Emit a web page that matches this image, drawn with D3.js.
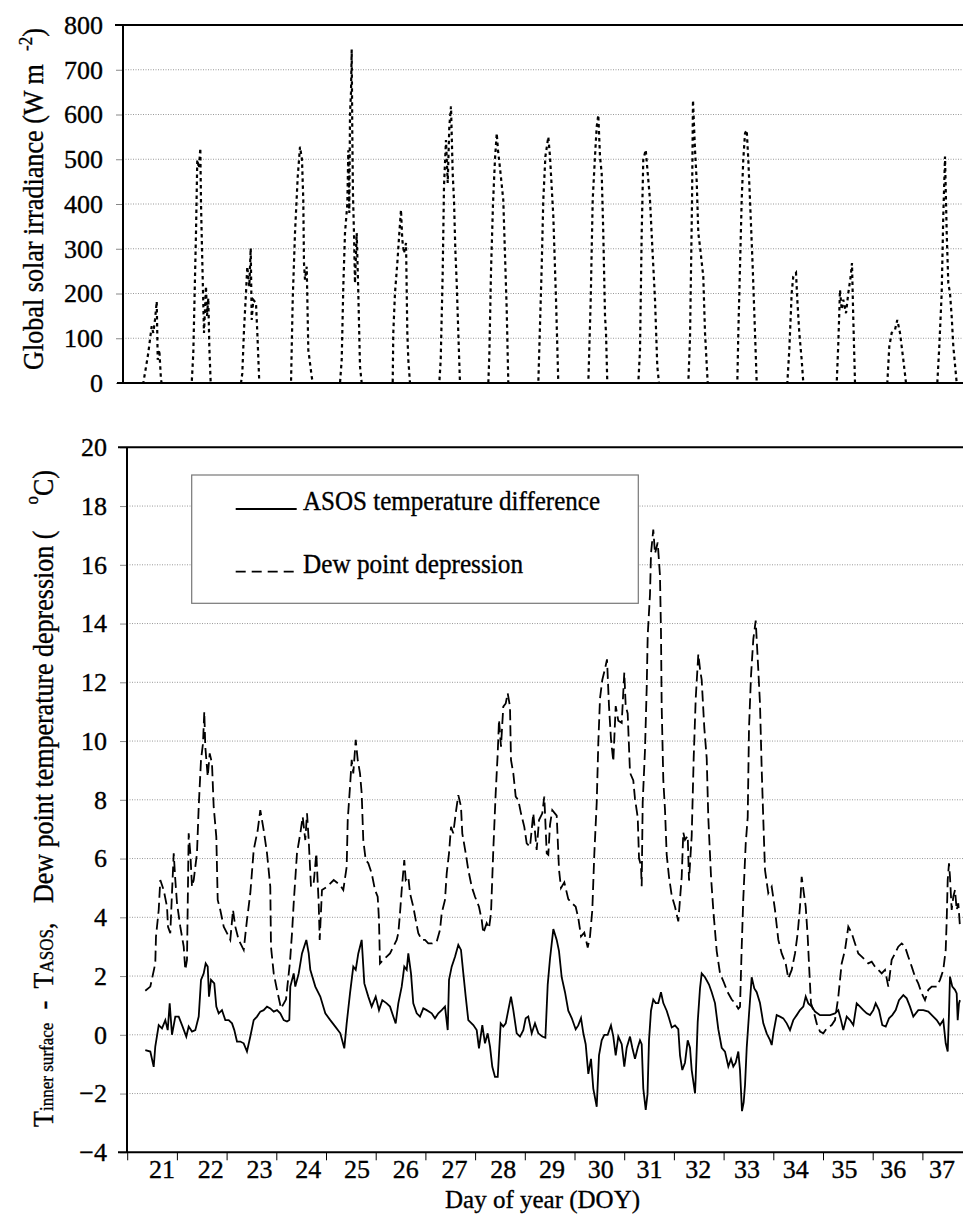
<!DOCTYPE html>
<html>
<head>
<meta charset="utf-8">
<script src="https://cdn.jsdelivr.net/npm/d3@7"></script>
<style>
body { margin: 0; background: #fff; }
</style>
</head>
<body>
<div id="chart"></div>
<script>
var days = [21, 22, 23, 24, 25, 26, 27, 28, 29, 30, 31, 32, 33, 34, 35, 36, 37];
var solarTicks = [0, 100, 200, 300, 400, 500, 600, 700, 800];
var tempTicks = [-4, -2, 0, 2, 4, 6, 8, 10, 12, 14, 16, 18, 20];
var legendNames = ['ASOS temperature difference', 'Dew point depression'];

// [DOY, W m-2]
var solar = [
  [21.000,0],[21.314,0],[21.382,45],[21.414,67],[21.483,127],[21.515,112],[21.549,141],[21.584,182],[21.604,52],[21.636,74],[21.670,7],[21.684,0],
  [22.288,0],[22.320,67],[22.374,335],[22.400,499],[22.435,480],[22.461,525],[22.475,400],[22.495,300],[22.535,112],[22.575,216],[22.596,150],[22.622,190],[22.642,82],[22.670,0],
  [23.280,0],[23.306,22],[23.340,119],[23.380,201],[23.406,260],[23.447,216],[23.475,301],[23.495,141],[23.527,186],[23.581,179],[23.608,112],[23.648,0],
  [24.286,0],[24.320,186],[24.366,335],[24.421,461],[24.467,528],[24.507,499],[24.533,409],[24.547,268],[24.567,231],[24.602,260],[24.634,74],[24.702,15],[24.722,0],
  [25.272,0],[25.306,52],[25.338,216],[25.372,335],[25.419,400],[25.439,520],[25.459,380],[25.473,600],[25.493,650],[25.507,745],[25.519,560],[25.533,420],[25.553,335],[25.573,223],[25.608,335],[25.640,201],[25.674,37],[25.708,0],
  [26.332,0],[26.344,112],[26.378,201],[26.425,268],[26.465,335],[26.499,387],[26.525,320],[26.559,290],[26.600,313],[26.626,112],[26.646,52],[26.680,0],
  [27.270,0],[27.298,52],[27.338,246],[27.364,439],[27.404,543],[27.439,447],[27.471,573],[27.505,618],[27.539,469],[27.565,409],[27.592,298],[27.620,223],[27.652,112],[27.686,0],
  [28.256,0],[28.276,60],[28.310,250],[28.350,400],[28.390,500],[28.425,558],[28.451,520],[28.491,480],[28.557,409],[28.626,164],[28.658,0],
  [29.262,0],[29.330,260],[29.362,409],[29.404,506],[29.463,550],[29.497,506],[29.564,372],[29.618,186],[29.664,0],
  [30.268,0],[30.316,186],[30.356,409],[30.402,506],[30.437,573],[30.469,599],[30.503,506],[30.537,469],[30.569,335],[30.604,149],[30.624,112],[30.650,0],
  [31.274,0],[31.308,74],[31.342,335],[31.374,499],[31.423,521],[31.463,469],[31.509,409],[31.555,305],[31.610,186],[31.656,37],[31.690,0],
  [32.280,0],[32.300,60],[32.314,100],[32.354,400],[32.374,632],[32.400,560],[32.415,520],[32.449,450],[32.481,335],[32.515,305],[32.581,238],[32.616,112],[32.670,0],
  [33.266,0],[33.286,112],[33.320,260],[33.354,409],[33.386,499],[33.421,558],[33.455,565],[33.487,499],[33.521,409],[33.575,260],[33.622,112],[33.656,0],
  [34.272,0],[34.312,74],[34.360,201],[34.392,238],[34.447,246],[34.473,186],[34.513,112],[34.561,52],[34.594,0],
  [35.266,0],[35.298,89],[35.332,208],[35.366,164],[35.398,186],[35.453,156],[35.499,201],[35.547,238],[35.573,268],[35.600,141],[35.634,0],
  [36.284,0],[36.324,82],[36.372,112],[36.439,119],[36.485,141],[36.539,112],[36.606,52],[36.660,0],
  [37.290,0],[37.330,82],[37.378,201],[37.410,372],[37.445,506],[37.479,335],[37.511,223],[37.545,201],[37.579,149],[37.612,82],[37.680,0],[37.760,0]
];

// [DOY, deg C]
var asosDiff = [
  [21.354,-0.52],[21.455,-0.57],[21.523,-1.09],[21.555,-0.40],[21.624,0.33],[21.690,0.22],[21.757,0.50],[21.805,0.16],[21.845,1.07],[21.891,0.00],[21.958,0.62],
  [22.026,0.62],[22.093,0.33],[22.179,-0.06],[22.227,0.28],[22.294,0.11],[22.360,0.16],[22.429,0.62],[22.475,1.87],[22.529,2.09],[22.569,2.43],[22.610,2.32],[22.636,1.30],[22.676,1.87],[22.742,1.75],[22.783,0.96],[22.831,0.73],[22.897,0.84],[22.964,0.50],
  [23.032,0.50],[23.099,0.39],[23.145,0.16],[23.199,-0.23],[23.266,-0.23],[23.334,-0.29],[23.400,-0.57],[23.467,-0.06],[23.535,0.50],[23.602,0.62],[23.668,0.79],[23.736,0.84],[23.803,0.96],[23.869,0.90],[23.938,0.79],
  [24.004,0.84],[24.070,0.73],[24.139,0.50],[24.205,0.45],[24.252,0.50],[24.272,1.64],[24.340,2.09],[24.372,1.64],[24.441,2.09],[24.507,2.77],[24.594,3.23],[24.642,2.77],[24.674,2.21],[24.775,1.64],[24.875,1.30],[24.976,0.73],
  [25.076,0.50],[25.177,0.28],[25.278,0.05],[25.358,-0.46],[25.406,0.39],[25.473,1.41],[25.539,2.32],[25.588,2.21],[25.640,2.77],[25.708,3.23],[25.761,1.75],[25.841,1.30],[25.909,0.96],[25.990,1.30],
  [26.056,0.84],[26.123,1.18],[26.211,1.07],[26.278,0.96],[26.344,0.62],[26.392,0.39],[26.445,1.07],[26.513,1.64],[26.565,2.32],[26.614,2.21],[26.646,2.77],[26.700,2.09],[26.746,1.07],[26.815,0.73],[26.881,0.62],[26.948,0.90],
  [27.016,0.84],[27.117,0.73],[27.183,0.56],[27.250,0.73],[27.318,0.84],[27.384,0.96],[27.439,0.16],[27.465,1.87],[27.519,2.32],[27.586,2.66],[27.652,3.06],[27.706,2.89],[27.753,2.09],[27.801,1.30],[27.853,0.50],[27.954,0.33],
  [28.022,0.16],[28.068,-0.46],[28.135,0.33],[28.189,-0.29],[28.243,0.05],[28.290,-0.40],[28.336,-1.09],[28.390,-1.43],[28.445,-1.43],[28.471,-0.63],[28.505,0.39],[28.557,0.28],[28.606,0.39],[28.658,0.84],[28.712,1.30],[28.759,0.84],[28.827,0.05],[28.893,-0.06],[28.960,0.16],
  [29.008,0.56],[29.060,0.62],[29.129,0.05],[29.195,0.39],[29.262,0.05],[29.342,-0.06],[29.404,-0.10],[29.451,1.71],[29.497,2.59],[29.564,3.60],[29.632,3.23],[29.678,2.85],[29.732,1.96],[29.799,1.45],[29.865,0.82],[29.934,0.57],
  [30.014,0.19],[30.066,0.32],[30.121,0.57],[30.167,0.06],[30.215,-0.32],[30.268,-1.33],[30.322,-0.82],[30.368,-1.83],[30.437,-2.45],[30.483,-0.70],[30.537,-0.19],[30.590,0.00],[30.658,0.00],[30.724,0.32],[30.771,-0.06],[30.819,-0.70],[30.871,-0.06],[30.940,-0.32],[30.992,-1.08],
  [31.040,-0.44],[31.107,-0.06],[31.153,-0.44],[31.207,-0.82],[31.262,-0.44],[31.308,-0.19],[31.342,-0.32],[31.374,-1.83],[31.423,-2.56],[31.459,-2.02],[31.489,-0.19],[31.529,0.82],[31.575,1.20],[31.624,1.08],[31.676,1.08],[31.730,1.45],[31.777,1.08],[31.845,0.82],[31.891,0.57],[31.946,0.25],
  [32.012,0.32],[32.078,0.19],[32.113,-0.70],[32.159,-1.20],[32.213,-0.95],[32.268,-0.19],[32.314,-0.44],[32.348,-1.20],[32.415,-1.99],[32.429,-1.45],[32.469,0.44],[32.515,1.58],[32.549,2.09],[32.616,1.96],[32.696,1.71],[32.751,1.45],[32.817,1.08],[32.883,0.19],[32.952,-0.44],
  [33.018,-0.57],[33.085,-1.08],[33.139,-0.82],[33.185,-1.08],[33.233,-0.95],[33.286,-0.57],[33.320,-1.20],[33.360,-2.60],[33.394,-2.30],[33.421,-1.71],[33.455,-0.44],[33.501,0.70],[33.555,1.96],[33.608,1.58],[33.656,1.45],[33.722,1.08],[33.789,0.39],[33.857,0.05],[33.924,-0.18],[33.958,-0.35],[33.990,0.05],
  [34.058,0.67],[34.125,0.62],[34.191,0.56],[34.260,0.39],[34.326,0.16],[34.392,0.50],[34.461,0.67],[34.527,0.84],[34.594,0.96],[34.642,1.30],[34.694,1.07],[34.763,0.96],[34.829,0.79],[34.930,0.67],
  [35.030,0.67],[35.131,0.67],[35.231,0.73],[35.298,0.84],[35.352,0.50],[35.398,0.16],[35.467,0.62],[35.533,0.50],[35.600,0.33],[35.668,1.07],[35.734,0.96],[35.801,0.84],[35.869,0.73],[35.936,0.67],
  [36.002,0.84],[36.050,1.07],[36.117,0.84],[36.183,0.33],[36.252,0.28],[36.318,0.56],[36.384,0.67],[36.453,0.84],[36.519,1.18],[36.606,1.35],[36.674,1.24],[36.740,0.96],[36.807,0.62],[36.907,0.84],
  [37.008,0.84],[37.109,0.79],[37.209,0.62],[37.278,0.50],[37.344,0.33],[37.410,0.50],[37.459,-0.29],[37.499,-0.57],[37.525,0.73],[37.545,1.98],[37.592,1.64],[37.646,1.53],[37.680,1.41],[37.700,0.50],[37.726,1.07],[37.746,1.18]
];

var dewDep = [
  [21.354,1.50],[21.455,1.64],[21.555,2.43],[21.569,3.34],[21.624,4.25],[21.656,5.27],[21.724,4.93],[21.791,4.36],[21.811,3.68],[21.857,3.46],[21.891,4.82],[21.926,6.18],[21.958,5.27],[21.992,4.48],
  [22.058,3.68],[22.127,3.00],[22.159,2.21],[22.193,2.55],[22.227,6.86],[22.260,6.18],[22.294,5.04],[22.328,5.27],[22.394,6.18],[22.429,7.77],[22.475,9.36],[22.515,9.92],[22.541,11.00],[22.561,9.81],[22.610,8.79],[22.650,9.58],[22.696,9.24],[22.730,7.77],[22.783,6.74],[22.811,4.59],[22.863,4.25],[22.932,3.68],[22.998,3.46],
  [23.064,3.23],[23.119,4.25],[23.165,3.68],[23.233,3.23],[23.334,2.89],[23.400,3.91],[23.467,4.82],[23.535,6.29],[23.616,6.97],[23.668,7.65],[23.736,6.97],[23.803,6.18],[23.869,5.04],[23.883,3.00],[23.938,2.09],
  [24.004,1.53],[24.085,0.90],[24.185,1.20],[24.266,2.50],[24.306,3.46],[24.340,4.48],[24.406,6.18],[24.473,6.86],[24.521,7.42],[24.573,6.63],[24.608,7.54],[24.642,6.63],[24.688,5.04],[24.742,5.16],[24.795,6.18],[24.843,4.48],[24.863,3.23],[24.909,4.93],
  [25.010,5.04],[25.145,5.27],[25.272,5.10],[25.338,4.93],[25.406,5.72],[25.427,7.31],[25.473,8.45],[25.507,9.36],[25.539,8.90],[25.588,10.04],[25.628,9.36],[25.674,8.90],[25.708,8.22],[25.740,6.63],[25.789,5.95],[25.841,5.84],[25.909,5.50],[25.976,4.93],
  [26.030,4.70],[26.056,3.91],[26.076,2.43],[26.143,2.55],[26.211,2.66],[26.278,2.77],[26.344,3.00],[26.412,3.23],[26.445,3.46],[26.479,4.14],[26.513,4.93],[26.565,5.95],[26.594,5.27],[26.646,5.38],[26.680,4.82],[26.746,4.36],[26.795,3.91],[26.847,3.46],[26.915,3.23],[26.982,3.23],
  [27.048,3.11],[27.129,3.11],[27.217,3.17],[27.284,3.57],[27.318,4.14],[27.384,4.59],[27.419,5.50],[27.465,6.18],[27.505,7.08],[27.551,6.86],[27.600,7.54],[27.652,8.16],[27.706,7.77],[27.732,6.86],[27.801,6.18],[27.853,5.61],[27.922,5.04],[27.988,4.70],
  [28.068,4.36],[28.123,3.91],[28.155,3.46],[28.223,3.80],[28.270,3.63],[28.310,4.14],[28.356,6.29],[28.404,8.22],[28.445,9.58],[28.471,10.72],[28.511,9.81],[28.557,11.17],[28.606,11.28],[28.646,11.63],[28.692,11.17],[28.712,9.36],[28.759,8.90],[28.807,8.11],[28.859,7.99],[28.913,7.54],[28.980,7.08],
  [29.028,6.52],[29.095,6.40],[29.161,7.54],[29.229,6.29],[29.276,7.31],[29.342,7.54],[29.382,8.11],[29.431,6.18],[29.463,6.13],[29.497,7.15],[29.543,7.65],[29.632,7.46],[29.678,5.63],[29.718,5.00],[29.785,5.19],[29.865,4.62],[29.934,4.49],
  [30.014,4.36],[30.066,3.98],[30.121,3.35],[30.187,3.48],[30.256,2.97],[30.302,3.35],[30.348,4.24],[30.388,6.13],[30.437,7.91],[30.469,9.93],[30.503,11.45],[30.549,12.08],[30.604,12.46],[30.644,12.78],[30.684,11.19],[30.724,10.06],[30.771,9.30],[30.819,11.19],[30.871,10.69],[30.940,10.62],[30.992,12.33],
  [31.020,11.19],[31.060,10.94],[31.107,8.92],[31.173,8.66],[31.207,8.03],[31.262,7.40],[31.288,6.01],[31.328,5.76],[31.342,5.06],[31.362,7.91],[31.408,9.68],[31.443,11.83],[31.463,13.60],[31.509,14.99],[31.529,16.38],[31.575,17.20],[31.610,16.38],[31.664,16.76],[31.710,15.62],[31.730,13.72],[31.744,11.19],[31.777,8.66],[31.811,7.65],[31.845,6.13],[31.891,5.38],[31.946,4.74],
  [32.012,4.36],[32.078,3.86],[32.113,4.62],[32.147,5.38],[32.179,6.89],[32.213,6.64],[32.268,6.77],[32.294,5.25],[32.348,6.77],[32.388,9.42],[32.429,11.45],[32.481,12.96],[32.515,12.46],[32.549,12.08],[32.602,10.44],[32.650,9.42],[32.682,7.40],[32.737,5.38],[32.783,4.24],[32.851,2.85],[32.918,2.09],[32.984,1.83],
  [33.072,1.45],[33.153,1.20],[33.219,1.08],[33.286,0.89],[33.320,0.95],[33.354,2.97],[33.386,4.62],[33.435,6.51],[33.475,7.40],[33.501,10.44],[33.541,12.21],[33.588,13.47],[33.636,14.10],[33.688,12.42],[33.722,11.28],[33.757,9.01],[33.789,7.31],[33.823,5.61],[33.889,4.82],[33.958,5.04],
  [34.024,4.25],[34.091,3.23],[34.159,2.77],[34.239,2.43],[34.292,1.92],[34.360,2.21],[34.427,2.77],[34.481,3.46],[34.527,4.36],[34.561,5.38],[34.614,4.70],[34.642,4.36],[34.682,3.34],[34.714,2.21],[34.748,1.07],[34.795,0.84],[34.863,0.39],[34.930,0.11],[34.996,0.05],
  [35.064,0.22],[35.165,0.33],[35.231,0.50],[35.298,1.30],[35.366,2.43],[35.433,2.89],[35.499,3.68],[35.567,3.46],[35.634,3.11],[35.700,2.77],[35.769,2.66],[35.835,2.55],[35.901,2.43],[35.970,2.49],
  [36.036,2.32],[36.103,2.21],[36.171,2.09],[36.237,2.21],[36.304,1.64],[36.372,2.55],[36.439,2.77],[36.505,3.00],[36.573,3.11],[36.640,3.00],[36.706,2.66],[36.775,2.32],[36.841,1.98],[36.907,1.75],[36.976,1.41],
  [37.042,1.18],[37.109,1.53],[37.177,1.64],[37.278,1.64],[37.344,1.87],[37.410,2.21],[37.459,2.89],[37.479,3.91],[37.499,5.27],[37.525,5.84],[37.545,5.38],[37.579,4.25],[37.612,4.70],[37.646,4.93],[37.680,4.25],[37.712,4.48],[37.746,3.68]
];

var w = 963,
    h = 1217;
var font = 'Liberation Serif';

var svg = d3.select('#chart')
    .append('svg')
    .attr('width', w)
    .attr('height', h);

svg.append('rect')
    .attr('width', w)
    .attr('height', h)
    .attr('fill', '#fff');

var x = d3.scaleLinear().domain([21, 38]).range([127.7, 972.6]);
var xLabel = d3.scaleLinear().domain([21, 37]).range([162, 942]);
var ySolar = d3.scaleLinear().domain([0, 800]).range([383, 25]);
var yTemp = d3.scaleLinear().domain([-4, 20]).range([1152.3, 447.3]);

var hline = function(y, x1, x2, stroke, width, dash) {
  svg.append('line')
      .attr('x1', x1).attr('x2', x2)
      .attr('y1', y).attr('y2', y)
      .attr('stroke', stroke)
      .attr('stroke-width', width)
      .attr('stroke-dasharray', dash || null);
}

// scanned text in the picture is a little heavier than plain Times
var ink = function(sel, size) {
  return sel.attr('font-family', font)
      .attr('font-size', size)
      .attr('fill', '#000')
      .attr('stroke', '#000')
      .attr('stroke-width', 0.35);
}

var yAxis = function(scale, ticks, left) {
  var g = svg.append('g')
      .attr('transform', 'translate(' + left + ',0)')
      .call(d3.axisLeft(scale).tickValues(ticks).tickSize(7).tickPadding(13));
  g.attr('font-family', font);
  g.select('.domain').remove();
  g.selectAll('.tick line').attr('stroke', '#888');
  ink(g.selectAll('.tick text'), 26);
  return g;
}

// rotated axis title, squeezed to the span it has in the picture
var yTitle = function(parts, cx, cy, span) {
  var t = ink(svg.append('text'), 29)
      .attr('text-anchor', 'middle')
      .attr('xml:space', 'preserve')
      .style('white-space', 'pre');
  parts.forEach(function(p) {
    t.append('tspan')
        .attr('font-size', p[1])
        .attr('dy', p[2])
        .text(p[0]);
  });
  var bw = t.node().getBBox().width;
  t.attr('transform', 'translate(' + cx + ',' + cy + ') rotate(-90) scale(' + (span / bw) + ',1)');
}

// ---- top panel: global solar irradiance
solarTicks.filter(function(d) { return d > 0 && d < 800; }).forEach(function(d) {
  hline(ySolar(d), 123, w, '#999', 1, '1,1.5');
});
yAxis(ySolar, solarTicks, 123);

var solarLine = d3.line()
    .x(function(d) { return x(d[0]); })
    .y(function(d) { return ySolar(d[1]); });

hline(ySolar(0), 117, w, '#000', 2);
svg.append('path')
    .datum(solar)
    .attr('d', solarLine)
    .attr('fill', 'none')
    .attr('stroke', '#000')
    .attr('stroke-width', 2.2)
    .attr('stroke-dasharray', '3.5,3.5');

hline(ySolar(800), 115, w, '#000', 2);
svg.append('line')
    .attr('x1', 123).attr('x2', 123)
    .attr('y1', ySolar(800)).attr('y2', ySolar(0))
    .attr('stroke', '#000')
    .attr('stroke-width', 2);

yTitle([
  ['Global solar irradiance (W m  ', 29, 0],
  ['-2', 19, -11],
  [')', 29, 11]
], 43, 199, 342);

// ---- bottom panel: temperature differences
tempTicks.filter(function(d) { return d > -4 && d < 20; }).forEach(function(d) {
  hline(yTemp(d), 127, w, '#999', 1, '1,1.5');
});
yAxis(yTemp, tempTicks, 127);

// legend box sits over the grid
svg.append('rect')
    .attr('x', 191.7)
    .attr('y', 475)
    .attr('width', 446.6)
    .attr('height', 128.3)
    .attr('fill', '#fff')
    .attr('stroke', '#777')
    .attr('stroke-width', 1.2);

var tempLine = d3.line()
    .x(function(d) { return x(d[0]); })
    .y(function(d) { return yTemp(d[1]); });

svg.append('path')
    .datum(dewDep)
    .attr('d', tempLine)
    .attr('fill', 'none')
    .attr('stroke', '#000')
    .attr('stroke-width', 1.8)
    .attr('stroke-dasharray', '11,5');

svg.append('path')
    .datum(asosDiff)
    .attr('d', tempLine)
    .attr('fill', 'none')
    .attr('stroke', '#000')
    .attr('stroke-width', 1.8);

hline(yTemp(20), 118, w, '#000', 2);
hline(yTemp(-4), 118, w, '#000', 2);
svg.append('line')
    .attr('x1', 127).attr('x2', 127)
    .attr('y1', yTemp(20)).attr('y2', yTemp(-4))
    .attr('stroke', '#000')
    .attr('stroke-width', 2);

// day boundaries and labels
svg.selectAll('.xtick')
    .data(days.concat([38]))
    .enter()
    .append('line')
    .attr('x1', function(d) { return x(d); })
    .attr('x2', function(d) { return x(d); })
    .attr('y1', yTemp(-4))
    .attr('y2', yTemp(-4) + 8)
    .attr('stroke', '#000')
    .attr('stroke-width', 1);

ink(svg.selectAll('.xlabel')
    .data(days)
    .enter()
    .append('text'), 26)
    .attr('x', function(d) { return xLabel(d); })
    .attr('y', 1178)
    .attr('text-anchor', 'middle')
    .text(function(d) { return d; });

ink(svg.append('text'), 26)
    .attr('x', 542.5)
    .attr('y', 1208)
    .attr('text-anchor', 'middle')
    .attr('textLength', 195)
    .attr('lengthAdjust', 'spacingAndGlyphs')
    .text('Day of year (DOY)');

yTitle([
  ['T', 29, 0],
  ['inner surface', 19, 0],
  ['  -  T', 29, 0],
  ['ASOS', 19, 0],
  [',   Dew point temperature depression (    ', 29, 0],
  ['o', 19, -15],
  ['C)', 29, 15]
], 53, 798.5, 657);

// legend entries
var legendRows = [
  { name: legendNames[0], y: 509, dash: null, len: 297 },
  { name: legendNames[1], y: 571.7, dash: '10,6', len: 220 }
];
legendRows.forEach(function(r) {
  svg.append('line')
      .attr('x1', 235.7).attr('x2', 296.7)
      .attr('y1', r.y).attr('y2', r.y)
      .attr('stroke', '#000')
      .attr('stroke-width', 1.8)
      .attr('stroke-dasharray', r.dash);
  ink(svg.append('text'), 27)
      .attr('x', 303)
      .attr('y', r.y + 1)
      .attr('textLength', r.len)
      .attr('lengthAdjust', 'spacingAndGlyphs')
      .text(r.name);
});
</script>
</body>
</html>
